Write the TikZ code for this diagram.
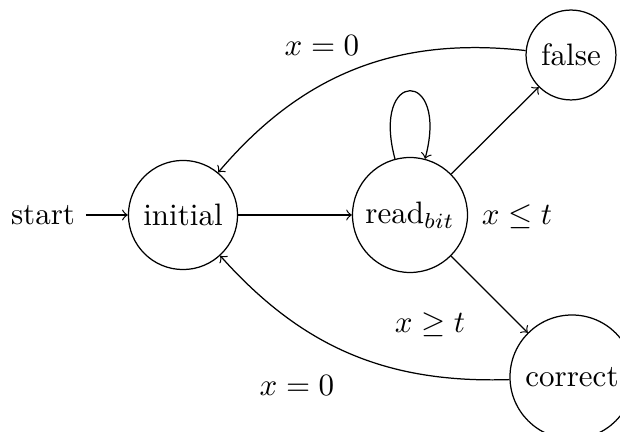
\documentclass[tikz,border=0pt]{standalone}
\begin{document}
\begin{tikzpicture}[x=0.3226pt,y=-0.3226pt,
  statenode/.style={draw,circle,inner sep=1pt},
  lbl/.style={inner sep=0pt},
  every edge/.style={draw,->}]
\useasboundingbox (0,0) rectangle (620,432);
\node[statenode,minimum size=35.2pt] (init) at (183,215) {initial};
\node[statenode,minimum size=37.1pt] (read) at (410,215) {read$_{bit}$};
\node[statenode,minimum size=29pt] (false) at (571,55) {false};
\node[statenode,minimum size=40pt] (correct) at (572,377) {correct};
\node (start) at (43,215) {start};
\draw[->] (start) -- (init);
\draw[->] (init) -- (read);
\draw[->] (read) to[loop above] (read);
\draw[->] (read) -- (false);
\draw[->] (read) -- (correct);
\draw[->] (false) to[bend right=28] (init);
\draw[->] (correct) to[bend left=25] (init);
\node[lbl] (l1) at (322,46) {$x=0$};
\node[lbl] (l2) at (517,217) {$x\le t$};
\node[lbl] (l3) at (430,325) {$x\ge t$};
\node[lbl] (l4) at (297,386) {$x=0$};
\end{tikzpicture}
\end{document}
